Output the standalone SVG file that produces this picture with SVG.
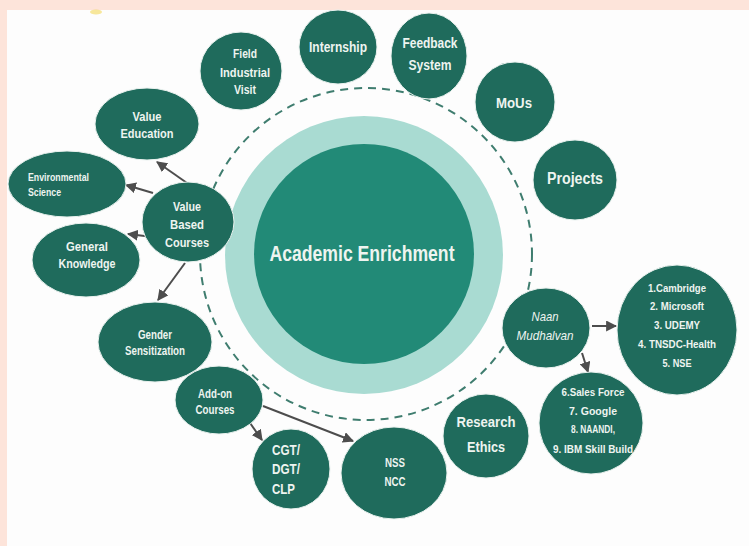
<svg xmlns="http://www.w3.org/2000/svg" width="749" height="546" viewBox="0 0 749 546">
<defs>
<style>
.n{fill:#1f6b5c;stroke:#e9f1ee;stroke-width:1}
.t{font-family:"Liberation Sans",Arial,sans-serif;font-weight:bold;fill:#eef4f0;text-anchor:middle}
.c{stroke:#4d4d4d;stroke-width:2;fill:none;marker-end:url(#ah)}
</style>
<marker id="ah" viewBox="0 0 10 10" refX="9" refY="5" markerWidth="5.5" markerHeight="5.5" orient="auto" markerUnits="strokeWidth">
<path d="M0,0 L10,5 L0,10 z" fill="#4d4d4d"/>
</marker>
</defs>
<rect x="0" y="0" width="749" height="546" fill="#fde4da"/>
<rect x="7" y="10" width="742" height="536" fill="#fdfdfd"/>
<ellipse cx="96" cy="12" rx="6" ry="2.5" fill="#f2d23a" opacity="0.5"/>

<circle cx="366" cy="254" r="166" fill="none" stroke="#3f7d6f" stroke-width="2" stroke-dasharray="8 6"/>

<g id="center">
<circle cx="364" cy="255" r="139" fill="#a9dbd2"/>
<circle cx="364" cy="254" r="110" fill="#228a77"/>
<text class="t" x="362" y="261" font-size="22" textLength="185" lengthAdjust="spacingAndGlyphs">Academic Enrichment</text>
</g>

<g id="connectors">
<line class="c" x1="187" y1="183" x2="157" y2="162"/>
<line class="c" x1="153" y1="193" x2="126" y2="185"/>
<line class="c" x1="153" y1="237" x2="128" y2="234"/>
<line class="c" x1="185" y1="263" x2="158" y2="300"/>
<line class="c" x1="250" y1="423" x2="262" y2="440"/>
<line class="c" x1="263" y1="406" x2="353" y2="441"/>
<line class="c" x1="592" y1="326" x2="616" y2="326"/>
<line class="c" x1="582" y1="353" x2="588" y2="372"/>
</g>

<g id="field">
<ellipse class="n" cx="241" cy="71" rx="41" ry="39"/>
<text class="t" font-size="13"><tspan x="245" y="58" textLength="24" lengthAdjust="spacingAndGlyphs">Field</tspan><tspan x="245" y="77" textLength="50" lengthAdjust="spacingAndGlyphs">Industrial</tspan><tspan x="245" y="94" textLength="22" lengthAdjust="spacingAndGlyphs">Visit</tspan></text>
</g>
<g id="internship">
<ellipse class="n" cx="338" cy="47" rx="39" ry="37"/>
<text class="t" x="338" y="52" font-size="14" textLength="58" lengthAdjust="spacingAndGlyphs">Internship</text>
</g>
<g id="feedback">
<ellipse class="n" cx="429" cy="56" rx="38" ry="43"/>
<text class="t" font-size="14"><tspan x="430" y="48" textLength="55" lengthAdjust="spacingAndGlyphs">Feedback</tspan><tspan x="430" y="70" textLength="43" lengthAdjust="spacingAndGlyphs">System</tspan></text>
</g>
<g id="mous">
<circle class="n" cx="515" cy="102" r="40"/>
<text class="t" x="514" y="108" font-size="15" textLength="36" lengthAdjust="spacingAndGlyphs">MoUs</text>
</g>
<g id="projects">
<ellipse class="n" cx="575" cy="180" rx="42" ry="40"/>
<text class="t" x="575" y="184" font-size="16" textLength="56" lengthAdjust="spacingAndGlyphs">Projects</text>
</g>
<g id="value-education">
<ellipse class="n" cx="147" cy="124" rx="52" ry="36"/>
<text class="t" font-size="13"><tspan x="147" y="121" textLength="29" lengthAdjust="spacingAndGlyphs">Value</tspan><tspan x="147" y="138" textLength="53" lengthAdjust="spacingAndGlyphs">Education</tspan></text>
</g>
<g id="environmental">
<ellipse class="n" cx="67" cy="184" rx="59" ry="33"/>
<text class="t" font-size="10" style="text-anchor:start"><tspan x="28" y="181" textLength="61" lengthAdjust="spacingAndGlyphs">Environmental</tspan><tspan x="28" y="196" textLength="33" lengthAdjust="spacingAndGlyphs">Science</tspan></text>
</g>
<g id="general-knowledge">
<ellipse class="n" cx="86" cy="260" rx="54" ry="37"/>
<text class="t" font-size="13"><tspan x="87" y="251" textLength="42" lengthAdjust="spacingAndGlyphs">General</tspan><tspan x="87" y="268" textLength="57" lengthAdjust="spacingAndGlyphs">Knowledge</tspan></text>
</g>
<g id="value-based">
<ellipse class="n" cx="188" cy="222" rx="46" ry="40"/>
<text class="t" font-size="13"><tspan x="187" y="211" textLength="28" lengthAdjust="spacingAndGlyphs">Value</tspan><tspan x="187" y="229" textLength="34" lengthAdjust="spacingAndGlyphs">Based</tspan><tspan x="187" y="247" textLength="44" lengthAdjust="spacingAndGlyphs">Courses</tspan></text>
</g>
<g id="gender">
<ellipse class="n" cx="155" cy="342" rx="57" ry="40"/>
<text class="t" font-size="12"><tspan x="155" y="339" textLength="34" lengthAdjust="spacingAndGlyphs">Gender</tspan><tspan x="155" y="355" textLength="60" lengthAdjust="spacingAndGlyphs">Sensitization</tspan></text>
</g>
<g id="addon">
<ellipse class="n" cx="219" cy="400" rx="44" ry="34"/>
<text class="t" font-size="12"><tspan x="215" y="398" textLength="34" lengthAdjust="spacingAndGlyphs">Add-on</tspan><tspan x="215" y="414" textLength="39" lengthAdjust="spacingAndGlyphs">Courses</tspan></text>
</g>
<g id="cgt">
<ellipse class="n" cx="291" cy="469" rx="39" ry="40"/>
<text class="t" font-size="15" style="text-anchor:start"><tspan x="272" y="455" textLength="28" lengthAdjust="spacingAndGlyphs">CGT/</tspan><tspan x="272" y="474" textLength="28" lengthAdjust="spacingAndGlyphs">DGT/</tspan><tspan x="272" y="494" textLength="23" lengthAdjust="spacingAndGlyphs">CLP</tspan></text>
</g>
<g id="nss">
<ellipse class="n" cx="394" cy="473" rx="53" ry="46"/>
<text class="t" font-size="12"><tspan x="395" y="467" textLength="20" lengthAdjust="spacingAndGlyphs">NSS</tspan><tspan x="395" y="486" textLength="21" lengthAdjust="spacingAndGlyphs">NCC</tspan></text>
</g>
<g id="research">
<ellipse class="n" cx="486" cy="436" rx="43" ry="42"/>
<text class="t" font-size="15"><tspan x="486" y="427" textLength="59" lengthAdjust="spacingAndGlyphs">Research</tspan><tspan x="486" y="452" textLength="38" lengthAdjust="spacingAndGlyphs">Ethics</tspan></text>
</g>
<g id="naan">
<ellipse class="n" cx="546" cy="328" rx="44" ry="40"/>
<text class="t" font-size="13" font-style="italic" style="font-weight:normal"><tspan x="545" y="321" textLength="27" lengthAdjust="spacingAndGlyphs">Naan</tspan><tspan x="545" y="340" textLength="57" lengthAdjust="spacingAndGlyphs">Mudhalvan</tspan></text>
</g>
<g id="list1">
<ellipse class="n" cx="677" cy="330" rx="60" ry="65"/>
<text class="t" font-size="11"><tspan x="677" y="292" textLength="58" lengthAdjust="spacingAndGlyphs">1.Cambridge</tspan><tspan x="677" y="310" textLength="54" lengthAdjust="spacingAndGlyphs">2. Microsoft</tspan><tspan x="677" y="329" textLength="46" lengthAdjust="spacingAndGlyphs">3. UDEMY</tspan><tspan x="677" y="348" textLength="78" lengthAdjust="spacingAndGlyphs">4. TNSDC-Health</tspan><tspan x="677" y="367" textLength="29" lengthAdjust="spacingAndGlyphs">5. NSE</tspan></text>
</g>
<g id="list2">
<ellipse class="n" cx="591" cy="423" rx="52" ry="51"/>
<text class="t" font-size="11"><tspan x="593" y="396" textLength="63" lengthAdjust="spacingAndGlyphs">6.Sales Force</tspan><tspan x="593" y="415" textLength="48" lengthAdjust="spacingAndGlyphs">7. Google</tspan><tspan x="593" y="433" textLength="44" lengthAdjust="spacingAndGlyphs">8. NAANDI,</tspan><tspan x="593" y="453" textLength="80" lengthAdjust="spacingAndGlyphs">9. IBM Skill Build</tspan></text>
</g>
</svg>
